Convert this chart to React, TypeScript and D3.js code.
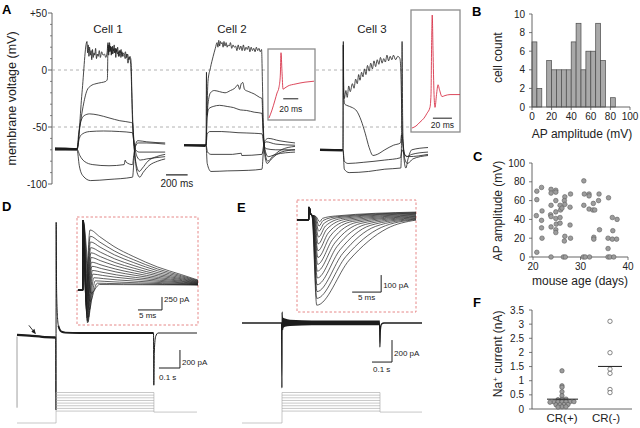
import React from 'react';
import * as d3 from 'd3';

type Pt = [number, number];
const FONT = "'Liberation Sans', Arial, Helvetica, sans-serif";
const INK = '#1c1c1c';
const AXIS = '#555';
const RED = '#d8334a';

// ---------------- Panel A : membrane voltage traces (t in ms, v in mV) ----------------
const cellNames = ['Cell 1', 'Cell 2', 'Cell 3'];
const voltMajor = [-100, -50, 0, 50];
const voltMajorLabels = ['-100', '-50', '0', '+50'];
const voltMinor = [-90, -80, -70, -60, -40, -30, -20, -10, 10, 20, 30, 40];
const stepOn = [204, 204, 213];

const cell1Traces: Pt[][] = [
  [[0,-69],[100,-68.5],[204,-69],[250,-20],[296,25],[302,15],[308,22],[314,12],[320,20],[327,13],[334,17],[340,9],[347,18],[354,11],[361,15],[368,13],[376,19],[384,10],[392,14],[400,12],[410,17],[420,11],[432,16],[445,13],[458,14],[470,11],[482,15],[491,24],[497,13],[503,22],[509,16],[515,21],[521,13],[528,20],[535,14],[542,18],[549,15],[556,19],[563,11],[570,18],[578,14],[586,16],[594,12],[602,17],[610,11],[620,16],[630,12],[640,13],[650,10],[662,14],[676,6],[686,11],[696,9],[704,0],[716,-40],[735,-70],[755,-84],[780,-89],[810,-86],[860,-80],[940,-76],[1020,-74]],
  [[0,-70],[100,-70],[204,-70],[230,-50],[260,-32],[296,-18],[330,-14],[380,-12],[430,-11],[470,-10],[485,-8],[491,22],[498,16],[505,24],[512,17],[519,20],[526,14],[533,21],[540,17],[548,22],[556,15],[564,19],[572,16],[580,20],[588,12],[596,17],[604,15],[612,18],[622,12],[632,15],[642,13],[652,16],[662,11],[672,14],[684,9],[694,12],[704,8],[712,-20],[724,-55],[740,-75],[760,-90],[785,-94],[815,-90],[870,-84],[950,-80],[1020,-78]],
  [[0,-68.5],[204,-69],[220,-55],[240,-45],[270,-40],[320,-38.5],[400,-39.5],[500,-42],[600,-44.5],[700,-46],[718,-46.5],[728,-58],[740,-68],[760,-76],[790,-79],[850,-78],[1020,-76]],
  [[0,-70],[204,-70],[225,-60],[255,-56],[320,-54],[450,-53.5],[600,-54],[718,-55],[732,-65],[745,-70],[780,-72],[1020,-72]],
  [[0,-69],[204,-69.5],[230,-75],[270,-80],[350,-83],[500,-84],[640,-83],[650,-79],[660,-81],[718,-83],[730,-74],[745,-67],[770,-64],[850,-64],[1020,-65]],
  [[0,-70],[204,-70],[225,-84],[260,-93],[330,-97],[500,-96],[718,-94],[732,-78],[745,-66],[765,-62],[850,-63],[1020,-64]],
];

const cell2Traces: Pt[][] = [
  [[0,-66],[204,-66],[212,-40],[222,-10],[245,2],[270,12],[290,19],[306,24],[314,20],[322,26],[330,21],[338,25],[346,23],[354,24],[362,20],[370,25],[380,21],[390,24],[400,20],[410,22],[420,21],[430,24],[442,19],[454,22],[466,20],[478,21],[490,17],[502,22],[514,18],[526,21],[538,17],[550,22],[562,17],[574,20],[586,18],[598,21],[610,16],[622,20],[634,17],[646,19],[658,16],[670,20],[682,17],[694,19],[706,16],[718,18],[726,-10],[735,-50],[750,-72],[775,-80],[820,-76],[900,-70],[1028,-67]],
  [[0,-65.5],[204,-66],[208,-2],[212,-40],[222,-30],[245,-20],[280,-18],[330,-19],[380,-20],[430,-18],[470,-16],[500,-13],[515,-17],[530,-12],[545,-11],[560,-17],[600,-19],[650,-21],[700,-24],[722,-25],[732,-50],[745,-72],[770,-82],[810,-78],[900,-72],[1028,-70]],
  [[0,-66],[204,-66],[214,-42],[230,-34],[270,-32],[330,-31],[400,-32],[460,-33],[520,-35],[580,-35.5],[650,-37],[722,-38],[735,-58],[750,-70],[780,-76],[850,-74],[1028,-72]],
  [[0,-66.5],[204,-66],[215,-56],[240,-54],[350,-54],[500,-55],[650,-55.5],[722,-56],[738,-65],[760,-69],[850,-70],[1028,-70]],
  [[0,-66],[204,-66],[218,-72],[250,-74],[450,-74],[530,-73],[535,-75],[722,-74],[738,-66],[760,-63],[850,-65],[1028,-66]],
  [[0,-66],[204,-66],[215,-82],[250,-89],[400,-88.5],[600,-88],[722,-87],[736,-70],[750,-62],[780,-60],[880,-62],[1028,-64]],
];

const cell3Traces: Pt[][] = [
  [[0,-70],[213,-70],[216,25],[219,-10],[225,-25],[240,-18],[252,-24],[266,-14],[280,-19],[300,-12],[315,-16],[330,-8],[345,-12],[358,-4],[370,-9],[385,-2],[398,-6],[412,1],[425,-4],[440,4],[455,-1],[470,6],[485,1],[500,8],[515,3],[530,9],[545,5],[560,11],[575,6],[590,10],[605,7],[620,13],[635,8],[650,12],[665,9],[680,13],[700,9],[720,12],[740,10],[748,0],[758,-40],[770,-68],[800,-76],[850,-74],[1000,-72]],
  [[0,-70.5],[213,-70],[215,22],[218,-20],[230,-30],[247,-31],[300,-33],[340,-36],[380,-44],[420,-56],[455,-68],[491,-75],[530,-74],[600,-70],[680,-66],[745,-64],[755,-57],[768,-63],[785,-78],[810,-82],[860,-78],[1000,-75]],
  [[0,-69.5],[213,-70],[225,-80],[260,-82],[400,-81],[600,-79],[745,-77],[760,-70],[780,-74],[820,-76],[1000,-74]],
  [[0,-70],[213,-70],[225,-87],[270,-90],[450,-89],[600,-87],[748,-86],[755,-60],[760,25],[765,-40],[775,-75],[795,-86],[815,-78],[850,-70],[1000,-68]],
];

const cell2Inset: Pt[] = [[0,-70],[4,-57.5],[8,-42],[10.7,-31],[13.3,-22],[15.1,-3],[16,32],[17.3,3],[18.7,-25],[21.3,-23],[25.3,-20],[34.7,-17],[48,-14],[60,-12.5]];
const cell3Inset: Pt[] = [[0,-70],[4.2,-68],[8.4,-64],[12.6,-60],[15.8,-55],[18.9,-49],[20,-36],[20.7,20],[21.3,45],[22.1,9],[23.2,-36],[24.2,-49],[25.8,-36],[27.4,-26],[28.9,-31],[31.6,-38],[34.7,-37],[40,-36],[50.5,-36]];

// ---------------- Panel B : histogram ----------------
const apBinStart = [0,5,10,15,20,25,30,35,40,45,50,55,60,65,70,75,80];
const apCounts =   [7,2,0,5,4,4,4,4,7,9,4,6,6,9,5,0,1];
const histYTicks = [0,2,4,6,8,10];
const histXTicks = [0,20,40,60,80,100];

// ---------------- Panel C : scatter ----------------
const mouseAge = [20.8,20.8,20.7,20.8, 21.8,21.9,21.8,21.8,21.9, 23.8,23.8,23.8,23.7,23.8,23.8,23.8, 24.8,24.8,24.8,24.8,24.8,24.9,24.8,24.8, 25.7,25.8,25.7,25.7,26.1, 26.7,26.6,26.7,26.7,26.6,26.4,26.8, 27.9,27.8,27.8,27.9, 30.7,30.8,30.7,30.6,31.0, 31.8,31.8,31.8,31.9, 32.7,32.6,33.0,32.8,32.8, 33.9,33.8,34.0, 35.9,35.8,35.8,35.8,36.2, 36.7,36.8,36.7,37.0, 37.7,37.6];
const apAmplitude = [70,61,44,5, 74,49,39,31,20, 72,68,55,45,43,32,0, 71,69,60,48,41,35,29,26, 55,50,42,36,52, 64,60,56,22,17,0,0, 67,53,34,20, 81,67,55,0,0, 67,65,51,0, 57,50,50,21,19, 67,60,29, 63,20,9,0,0, 42,28,19,0, 40,19];
const ageTicks = [20,30,40];
const ampTicks = [0,20,40,60,80,100];

// ---------------- Panel D / E : currents ----------------
const dMainTrace: Pt[] = [[0,-20],[60,-30],[120,-42],[184,-50],[185.5,-855],[186.5,1230],[188,600],[190,330],[193,170],[197,80],[203,40],[212,15],[230,5],[300,0],[650,0],[651.5,-580],[654,-200],[660,-40],[672,0],[857,0]];
const dStartArtifact: Pt[] = [[0,-40],[0.2,-830]];
const eMainTrace: Pt[] = [[0,0],[198,0],[199.5,-590],[200.5,100],[203,-60],[207,-10],[215,0],[688,0],[689.5,-218],[692,-60],[698,-10],[710,0],[900,0]];
const eNoiseT =  [201,215,240,300,400,689];
const eNoiseHi = [55,40,30,25,22,22];
const eNoiseLo = [-50,-35,-28,-22,-20,-20];
const protoHold = -95;
const protoSteps = [-50,-40,-30,-20,-10,0,10,20];
const protoPost = -50;
const dTiming = { on: 186, off: 652, end: 857 };
const eTiming = { on: 200, off: 690, end: 900 };

// D inset: Na+ / K+ current family
const dInsetIn   = [-170,-240,-320,-400,-480,-560,-630,-690,-730,-710,-620,-480,-320,-160];
const dInsetInT  = [1.6,1.65,1.7,1.75,1.8,1.85,1.9,1.95,2.0,2.1,2.2,2.35,2.5,2.7];
const dInsetOut  = [1060,940,830,720,620,530,440,360,280,210,140,80,35,10];
const dInsetOutT = [2.5,2.55,2.6,2.65,2.7,2.75,2.8,2.9,3.0,3.1,3.3,3.6,4.0,4.5];
const dDecayT = [2,5,9,14,19];
const dDecayF = [0.88,0.7,0.52,0.33,0.19];

// E inset: Na+ current family
const eInsetOnsetT = [2.6,2.62,2.64,2.66,2.7,2.74,2.78,2.82,2.88,2.94,3.0,3.1,3.2,3.3];
const eInsetPeak  = [-530,-490,-450,-410,-370,-330,-290,-250,-210,-170,-130,-95,-65,-40];
const eInsetPeakT = [3.4,3.4,3.45,3.45,3.5,3.5,3.55,3.6,3.6,3.65,3.7,3.75,3.8,3.9];
const eInsetHalfT = [9.0,8.4,7.9,7.4,6.9,6.5,6.1,5.7,5.4,5.1,4.9,4.7,4.5,4.4];
const eInsetTailT = [15.5,14.5,13.5,12.6,11.8,11.0,10.3,9.6,9.0,8.4,7.9,7.4,7.0,6.6];
const eInsetEnd   = [-30,-27,-24,-20,-16,-12,-8,-4,0,4,8,11,14,17];

// ---------------- Panel F ----------------
const crPos = [1.35,0.82,0.77,0.61,0.47,0.35,0.34,0.33,0.26,0.25,0.25,0.24,0.25,0.26,0.25,0.16,0.15,0.16,0.15,0.08,0.07,0.08];
const crNeg = [3.1,1.99,1.41,1.26,0.69,0.58];
const crCats = ['CR(+)', 'CR(-)'];
const naTicks = [0,0.5,1,1.5,2,2.5,3,3.5];

function path(pts: Pt[], xs: (v: number) => number, ys: (v: number) => number, curve: any = d3.curveMonotoneX) {
  return d3.line<Pt>().x(d => xs(d[0])).y(d => ys(d[1])).curve(curve)(pts) || '';
}

function swarm(vals: number[], spacing: number) {
  const idx = vals.map((v, i) => i).sort((a, b) => vals[a] - vals[b]);
  const off = new Array(vals.length).fill(0);
  let group: number[] = [];
  const flush = () => {
    group.forEach((gi, k) => { off[gi] = (k - (group.length - 1) / 2) * spacing; });
    group = [];
  };
  idx.forEach(i => {
    if (group.length && vals[i] - vals[group[0]] > 0.03) flush();
    group.push(i);
  });
  flush();
  return off;
}

export default function App() {
  const yA = d3.scaleLinear().domain([-100, 50]).range([184, 13]);
  const cellX = [55, 184, 320].map(x0 => d3.scaleLinear().domain([0, 1000]).range([x0, x0 + 108]));
  const cellTraces = [cell1Traces, cell2Traces, cell3Traces];
  const titleX = [108, 232, 372];

  const c2ix = d3.scaleLinear().domain([0, 60]).range([269, 314]);
  const c2iy = d3.scaleLinear().domain([-70, 30]).range([118, 54]);
  const c3ix = d3.scaleLinear().domain([0, 50.5]).range([412, 460]);
  const c3iy = d3.scaleLinear().domain([-70, 45]).range([128, 15]);

  const xB = d3.scaleLinear().domain([0, 100]).range([532, 630]);
  const yB = d3.scaleLinear().domain([0, 10]).range([107, 14]);
  const xC = d3.scaleLinear().domain([20, 40]).range([533, 628]);
  const yC = d3.scaleLinear().domain([0, 100]).range([257, 163]);
  const yF = d3.scaleLinear().domain([0, 3.5]).range([409, 310]);
  const xF = d3.scalePoint<string>().domain(crCats).range([562, 610]);

  const xD = d3.scaleLinear().domain([0, 1000]).range([17, 227]);
  const yD = d3.scaleLinear().domain([0, 1000]).range([333, 243]);
  const xE = d3.scaleLinear().domain([0, 1000]).range([242, 442]);
  const yE = d3.scaleLinear().domain([0, 1000]).range([323, 213]);
  const yProt = d3.scaleLinear().domain([-95, 20]).range([423, 392.5]);

  const xDi = d3.scaleLinear().domain([-0.2, 25]).range([77, 198]);
  const yDi = d3.scaleLinear().domain([-770, 1310]).range([325, 217]);
  const xEi = d3.scaleLinear().domain([0, 20.5]).range([297, 416]);
  const yEi = d3.scaleLinear().domain([-570, 88]).range([312, 200]);

  const txt = (x: number, y: number, s: string, size: number, anchor = 'start') => (
    <text x={x} y={y} fontSize={size} textAnchor={anchor} fontFamily={FONT} fill="#222">{s}</text>
  );

  const dInsetTraces: Pt[][] = dInsetOut.map((out, k) => {
    const pts: Pt[] = [[0, -100], [1.0, -100], [1.05, 1250], [dInsetInT[k], dInsetIn[k]], [dInsetOutT[k], out]];
    dDecayT.forEach((dt, i) => { const t = dInsetOutT[k] + dt; if (t < 24.8) pts.push([t, out * dDecayF[i]]); });
    pts.push([25, out * 0.09]);
    return pts;
  });
  const eInsetTraces: Pt[][] = eInsetPeak.map((pk, k) => [
    [0, -29], [2.0, -29], [2.07, 47], [2.4, 3], [eInsetOnsetT[k], -10], [eInsetPeakT[k], pk],
    [eInsetHalfT[k], pk * 0.5], [eInsetTailT[k], pk * 0.15], [20.5, eInsetEnd[k]],
  ] as Pt[]);

  const protocol = (xs: d3.ScaleLinear<number, number>, tm: { on: number; off: number; end: number }) => {
    const top = d3.max(protoSteps)!;
    return (
      <g stroke="#a3a3a3" strokeWidth={0.6} fill="none">
        <line x1={xs(0)} x2={xs(tm.on)} y1={yProt(protoHold)} y2={yProt(protoHold)} />
        <line x1={xs(tm.on)} x2={xs(tm.on)} y1={yProt(protoHold)} y2={yProt(top)} />
        {protoSteps.map(v => <line key={v} x1={xs(tm.on)} x2={xs(tm.off)} y1={yProt(v)} y2={yProt(v)} />)}
        <line x1={xs(tm.off)} x2={xs(tm.off)} y1={yProt(top)} y2={yProt(protoPost) + 1} />
        <line x1={xs(tm.off)} x2={xs(tm.end)} y1={yProt(protoPost) + 1} y2={yProt(protoPost) + 1} />
      </g>
    );
  };

  const eBand = d3.area<number>().x((t) => xE(t)).y0((_, i) => yE(eNoiseLo[i])).y1((_, i) => yE(eNoiseHi[i])).curve(d3.curveMonotoneX)(eNoiseT) || '';

  const posOff = swarm(crPos, 4);
  const meanPos = d3.mean(crPos)!;
  const meanNeg = d3.mean(crNeg)!;

  const arrTip: Pt = [xD(90), yD(-15)];
  const arrTail: Pt = [arrTip[0] - 7, arrTip[1] - 9];

  return (
    <svg width={640} height={428} style={{ position: 'absolute', left: 0, top: 0, background: '#fff' }} fontFamily={FONT}>
      {/* ================= Panel A ================= */}
      <text x={2} y={14} fontSize={13} fontWeight="bold" fontFamily={FONT}>A</text>
      <line x1={52} x2={52} y1={yA(-100)} y2={yA(50)} stroke={AXIS} strokeWidth={0.9} />
      {voltMajor.map((v, i) => (
        <g key={v}>
          <line x1={48} x2={52} y1={yA(v)} y2={yA(v)} stroke={AXIS} strokeWidth={0.9} />
          {txt(47, yA(v) + 3.5, voltMajorLabels[i], 10, 'end')}
        </g>
      ))}
      {voltMinor.map(v => <line key={v} x1={50} x2={52} y1={yA(v)} y2={yA(v)} stroke={AXIS} strokeWidth={0.7} />)}
      <text transform={`translate(16,${yA(-25)}) rotate(-90)`} fontSize={12.5} textAnchor="middle" fontFamily={FONT} fill="#222">membrane voltage (mV)</text>
      {[0, -50].map(v => <line key={v} x1={52} x2={452} y1={yA(v)} y2={yA(v)} stroke="#a0a0a0" strokeWidth={0.8} strokeDasharray="3,3" />)}

      {cellTraces.map((traces, ci) => (
        <g key={ci}>
          {traces.map((tr, ti) => (
            <path key={ti} d={path(tr, cellX[ci], yA)} fill="none" stroke={INK} strokeWidth={0.8} />
          ))}
          <path d={path([[0, traces[0][0][1]], [stepOn[ci] - 4, traces[0][0][1] - 0.5]], cellX[ci], yA, d3.curveLinear)} stroke={INK} strokeWidth={2.2} fill="none" />
          {txt(titleX[ci], 33, cellNames[ci], 11.5, 'middle')}
        </g>
      ))}
      <line x1={cellX[0](1028)} x2={cellX[0](1228)} y1={yA(-92)} y2={yA(-92)} stroke={INK} strokeWidth={1.2} />
      {txt(cellX[0](1128), 187, '200 ms', 10, 'middle')}

      <rect x={268} y={49} width={47} height={71} fill="#fff" stroke="#8c8c8c" strokeWidth={1.3} />
      <path d={path(cell2Inset, c2ix, c2iy)} fill="none" stroke={RED} strokeWidth={0.9} />
      <line x1={c2ix(19)} x2={c2ix(39)} y1={c2iy(-40)} y2={c2iy(-40)} stroke={INK} strokeWidth={1} />
      {txt(c2ix(29), 112, '20 ms', 8.5, 'middle')}
      <rect x={411} y={10} width={49} height={122} fill="#fff" stroke="#8c8c8c" strokeWidth={1.3} />
      <path d={path(cell3Inset, c3ix, c3iy)} fill="none" stroke={RED} strokeWidth={0.9} />
      <line x1={c3ix(22)} x2={c3ix(42)} y1={c3iy(-60)} y2={c3iy(-60)} stroke={INK} strokeWidth={1} />
      {txt(c3ix(32), 128, '20 ms', 8.5, 'middle')}

      {/* ================= Panel B ================= */}
      <text x={472} y={16} fontSize={13} fontWeight="bold" fontFamily={FONT}>B</text>
      {apCounts.map((c, i) => c > 0 && (
        <rect key={i} x={xB(apBinStart[i])} y={yB(c)} width={xB(apBinStart[i] + 5) - xB(apBinStart[i])} height={yB(0) - yB(c)}
          fill="#a9a9a9" stroke="#4a4a4a" strokeWidth={0.7} />
      ))}
      <line x1={xB(0)} x2={xB(0)} y1={yB(0)} y2={yB(10)} stroke={AXIS} strokeWidth={0.9} />
      <line x1={xB(0)} x2={xB(100)} y1={yB(0)} y2={yB(0)} stroke={AXIS} strokeWidth={0.9} />
      {histYTicks.map(v => (
        <g key={v}>
          <line x1={xB(0) - 3} x2={xB(0)} y1={yB(v)} y2={yB(v)} stroke={AXIS} strokeWidth={0.8} />
          {txt(525, yB(v) + 3.5, String(v), 10, 'end')}
        </g>
      ))}
      {histXTicks.map(v => (
        <g key={v}>
          <line x1={xB(v)} x2={xB(v)} y1={yB(0)} y2={yB(0) + 3} stroke={AXIS} strokeWidth={0.8} />
          {txt(xB(v), 120, String(v), 10, 'middle')}
        </g>
      ))}
      {txt(582, 138, 'AP amplitude (mV)', 12, 'middle')}
      <text transform={`translate(502,${yB(5.3)}) rotate(-90)`} fontSize={12} textAnchor="middle" fontFamily={FONT} fill="#222">cell count</text>

      {/* ================= Panel C ================= */}
      <text x={473} y={161} fontSize={13} fontWeight="bold" fontFamily={FONT}>C</text>
      <line x1={532} x2={532} y1={yC(0)} y2={yC(100)} stroke={AXIS} strokeWidth={0.9} />
      <line x1={532} x2={xC(40)} y1={yC(0)} y2={yC(0)} stroke={AXIS} strokeWidth={0.9} />
      {ampTicks.map(v => (
        <g key={v}>
          <line x1={529} x2={532} y1={yC(v)} y2={yC(v)} stroke={AXIS} strokeWidth={0.8} />
          {txt(525, yC(v) + 3.5, String(v), 10, 'end')}
        </g>
      ))}
      {ageTicks.map(v => (
        <g key={v}>
          <line x1={xC(v)} x2={xC(v)} y1={yC(0)} y2={yC(0) + 3} stroke={AXIS} strokeWidth={0.8} />
          {txt(xC(v), 270, String(v), 10, 'middle')}
        </g>
      ))}
      {mouseAge.map((a, i) => (
        <circle key={i} cx={xC(a)} cy={yC(apAmplitude[i])} r={2.3} fill="#9c9c9c" stroke="#5e5e5e" strokeWidth={0.6} />
      ))}
      {txt(580, 285, 'mouse age (days)', 12, 'middle')}
      <text transform={`translate(502,${yC(49)}) rotate(-90)`} fontSize={12} textAnchor="middle" fontFamily={FONT} fill="#222">AP amplitude (mV)</text>

      {/* ================= Panel F ================= */}
      <text x={473} y={307} fontSize={13} fontWeight="bold" fontFamily={FONT}>F</text>
      <line x1={532} x2={532} y1={yF(0)} y2={yF(3.5)} stroke={AXIS} strokeWidth={0.9} />
      <line x1={532} x2={632} y1={yF(0)} y2={yF(0)} stroke={AXIS} strokeWidth={0.9} />
      {naTicks.map(v => (
        <g key={v}>
          <line x1={529} x2={532} y1={yF(v)} y2={yF(v)} stroke={AXIS} strokeWidth={0.8} />
          {txt(524, yF(v) + 3.5, String(v), 10, 'end')}
        </g>
      ))}
      {crPos.map((v, i) => (
        <circle key={i} cx={xF('CR(+)')! + posOff[i]} cy={yF(v)} r={2.2} fill="#9c9c9c" stroke="#555" strokeWidth={0.6} />
      ))}
      {crNeg.map((v, i) => (
        <circle key={i} cx={xF('CR(-)')!} cy={yF(v)} r={2.2} fill="#fff" stroke="#555" strokeWidth={0.7} />
      ))}
      <line x1={xF('CR(+)')! - 15} x2={xF('CR(+)')! + 16} y1={yF(meanPos)} y2={yF(meanPos)} stroke={INK} strokeWidth={1} />
      <line x1={xF('CR(-)')! - 12} x2={xF('CR(-)')! + 12} y1={yF(meanNeg)} y2={yF(meanNeg)} stroke={INK} strokeWidth={1} />
      {txt(xF('CR(+)')!, 422, 'CR(+)', 11.5, 'middle')}
      {txt(xF('CR(-)')! - 4, 422, 'CR(-)', 11.5, 'middle')}
      <text transform={`translate(502,${yF(1.95)}) rotate(-90)`} fontSize={12} textAnchor="middle" fontFamily={FONT} fill="#222">
        Na<tspan dy={-4} fontSize={8}>+</tspan><tspan dy={4}> current (nA)</tspan>
      </text>

      {/* ================= Panel D ================= */}
      <text x={2} y={211} fontSize={13} fontWeight="bold" fontFamily={FONT}>D</text>
      <path d={path(dStartArtifact, xD, yD, d3.curveLinear)} stroke="#888" strokeWidth={0.8} fill="none" />
      <path d={path(dMainTrace, xD, yD)} fill="none" stroke={INK} strokeWidth={1} />
      <path d={path(dMainTrace.slice(0, 4), xD, yD)} fill="none" stroke={INK} strokeWidth={2.3} />
      <path d={path(dMainTrace.slice(9, 15), xD, yD)} fill="none" stroke={INK} strokeWidth={1.8} />
      <line x1={arrTail[0]} y1={arrTail[1]} x2={arrTip[0] - 1.5} y2={arrTip[1] - 2} stroke={INK} strokeWidth={0.9} />
      <polygon points={`${arrTip[0]},${arrTip[1]} ${arrTip[0] - 4.5},${arrTip[1] - 2.5} ${arrTip[0] - 1.5},${arrTip[1] - 5.5}`} fill={INK} />
      <polyline points={`${xD(676)},${yD(-389)} ${xD(776)},${yD(-389)} ${xD(776)},${yD(-189)}`} fill="none" stroke={INK} strokeWidth={1} />
      {txt(xD(776) + 2, 365, '200 pA', 8)}
      {txt(xD(676), 380, '0.1 s', 8)}
      {protocol(xD, dTiming)}
      <rect x={xDi(-0.2)} y={yDi(1310)} width={xDi(25) - xDi(-0.2)} height={yDi(-770) - yDi(1310)} fill="#fff" stroke="#e06a6a" strokeWidth={0.8} strokeDasharray="2.5,2" />
      {dInsetTraces.map((tr, k) => <path key={k} d={path(tr, xDi, yDi)} fill="none" stroke={INK} strokeWidth={0.7} />)}
      <polyline points={`${xDi(12.5)},${yDi(-480)} ${xDi(17.5)},${yDi(-480)} ${xDi(17.5)},${yDi(-230)}`} fill="none" stroke={INK} strokeWidth={1} />
      {txt(xDi(17.5) + 2, 302, '250 pA', 8)}
      {txt(xDi(12.5) + 1, 318, '5 ms', 8)}

      {/* ================= Panel E ================= */}
      <text x={237} y={212} fontSize={13} fontWeight="bold" fontFamily={FONT}>E</text>
      <path d={eBand} fill={INK} />
      <path d={path(eMainTrace, xE, yE)} fill="none" stroke={INK} strokeWidth={1.3} />
      <polyline points={`${xE(650)},${yE(-355)} ${xE(750)},${yE(-355)} ${xE(750)},${yE(-155)}`} fill="none" stroke={INK} strokeWidth={1} />
      {txt(xE(750) + 2, 356, '200 pA', 8)}
      {txt(xE(655), 372, '0.1 s', 8)}
      {protocol(xE, eTiming)}
      <rect x={xEi(0)} y={yEi(88)} width={xEi(20.5) - xEi(0)} height={yEi(-570) - yEi(88)} fill="#fff" stroke="#e06a6a" strokeWidth={0.8} strokeDasharray="2.5,2" />
      {eInsetTraces.map((tr, k) => <path key={k} d={path(tr, xEi, yEi)} fill="none" stroke={INK} strokeWidth={0.7} />)}
      <polyline points={`${xEi(9.5)},${yEi(-453)} ${xEi(14.5)},${yEi(-453)} ${xEi(14.5)},${yEi(-353)}`} fill="none" stroke={INK} strokeWidth={1} />
      {txt(xEi(14.5) + 2, 288, '100 pA', 8)}
      {txt(xEi(10.5), 300, '5 ms', 8)}
    </svg>
  );
}
